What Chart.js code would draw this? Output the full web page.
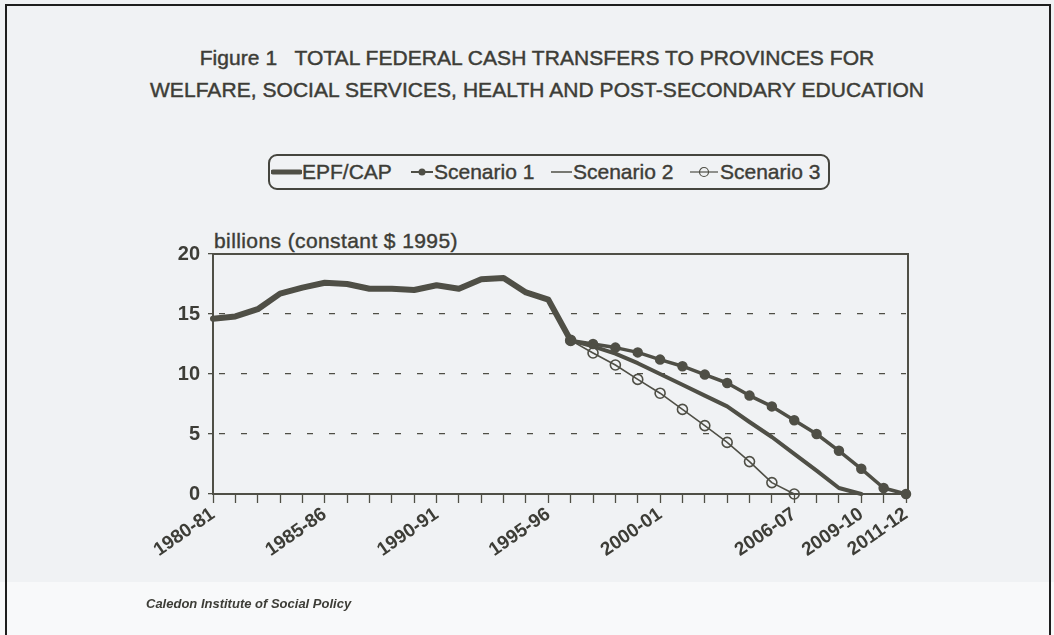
<!DOCTYPE html>
<html>
<head>
<meta charset="utf-8">
<script src="https://cdn.jsdelivr.net/npm/chart.js@4.4.0/dist/chart.umd.min.js"></script>
<style>
html, body { margin: 0; padding: 0; }
body {
  width: 1054px; height: 635px; position: relative; overflow: hidden;
  background: #f0f2f4; font-family: "Liberation Sans", Arial, sans-serif; color: #3d3d37;
}
#lower { position: absolute; left: 0; top: 582px; width: 1054px; height: 60px; background: #f8f9fa; }
#frame { position: absolute; left: 5px; top: 4px; width: 1042px; height: 660px; border: 2px solid #1e1e1e; border-bottom: none; }
#chart { position: absolute; left: 0; top: 0; }
#title { position: absolute; left: 0; width: 1074px; top: 42px; text-align: center; font-size: 21px; line-height: 32px; letter-spacing: 0.05px; -webkit-text-stroke: 0.45px #3d3d37; }
#unit { position: absolute; left: 214px; top: 229px; font-size: 21px; letter-spacing: 0.4px; -webkit-text-stroke: 0.4px #3d3d37; }
#legend { position: absolute; left: 268px; top: 154px; width: 558px; height: 32px; border: 2px solid #45453e; border-radius: 9px; }
.item { position: absolute; top: 0; height: 32px; display: flex; align-items: center; font-size: 21px; white-space: nowrap; -webkit-text-stroke: 0.4px #3d3d37; }
#source { position: absolute; left: 146px; top: 596px; font-size: 13px; font-weight: bold; font-style: italic; }
</style>
</head>
<body>
<div id="lower"></div>
<div id="frame"></div>
<div id="title">Figure 1&nbsp;&nbsp; TOTAL FEDERAL CASH TRANSFERS TO PROVINCES FOR<br>WELFARE, SOCIAL SERVICES, HEALTH AND POST-SECONDARY EDUCATION</div>
<div id="legend">
  <div class="item" style="left:1px"><svg width="31" height="12"><line x1="2" y1="6" x2="29" y2="6" stroke="#4f4f46" stroke-width="5" stroke-linecap="round"/></svg>EPF/CAP</div>
  <div class="item" style="left:140px"><svg width="24" height="12"><line x1="1" y1="6" x2="23" y2="6" stroke="#4f4f46" stroke-width="2"/><circle cx="12" cy="6" r="3.5" fill="#4f4f46"/></svg>Scenario 1</div>
  <div class="item" style="left:280px"><svg width="23" height="12"><line x1="1" y1="6" x2="22" y2="6" stroke="#4f4f46" stroke-width="1.5"/></svg>Scenario 2</div>
  <div class="item" style="left:419px"><svg width="31" height="12"><line x1="1" y1="6" x2="29" y2="6" stroke="#4f4f46" stroke-width="1.2"/><circle cx="15" cy="6" r="4.5" fill="none" stroke="#4f4f46" stroke-width="1.2"/></svg>Scenario 3</div>
</div>
<div id="unit">billions (constant $ 1995)</div>
<canvas id="chart" width="1054" height="635"></canvas>
<div id="source">Caledon Institute of Social Policy</div>
<script>
const years = ['1980-81','1981-82','1982-83','1983-84','1984-85','1985-86','1986-87','1987-88',
  '1988-89','1989-90','1990-91','1991-92','1992-93','1993-94','1994-95','1995-96',
  '1996-97','1997-98','1998-99','1999-00','2000-01','2001-02','2002-03','2003-04',
  '2004-05','2005-06','2006-07','2007-08','2008-09','2009-10','2010-11','2011-12'];
const shownYears = ['1980-81','1985-86','1990-91','1995-96','2000-01','2006-07','2009-10','2011-12'];
const yTicks = [0, 5, 10, 15, 20];

// EPF/CAP from 1980-81 to 1996-97
const epfCap = [14.6, 14.8, 15.4, 16.7, 17.2, 17.6, 17.5, 17.1, 17.1, 17.0, 17.4, 17.1, 17.9, 18.0, 16.8, 16.2, 12.8];
// scenarios start in 1996-97
const scenarioStart = 16;
const scenario1 = [12.8, 12.5, 12.2, 11.8, 11.2, 10.65, 9.95, 9.25, 8.2, 7.3, 6.15, 5.0, 3.6, 2.1, 0.5, 0];
const scenario2 = [12.8, 12.3, 11.7, 10.9, 10.0, 9.1, 8.2, 7.3, 6.0, 4.75, 3.35, 1.95, 0.5, 0];
const scenario3 = [12.8, 11.75, 10.75, 9.55, 8.4, 7.05, 5.7, 4.3, 2.7, 0.95, 0];

const ink = '#4f4f46';

function fromStart(arr) {
  return new Array(scenarioStart).fill(null).concat(arr);
}

const framePlugin = {
  id: 'frame',
  beforeDatasetsDraw(chart) {
    const a = chart.chartArea, ctx = chart.ctx;
    ctx.save();
    ctx.strokeStyle = ink;
    ctx.lineWidth = 2;
    ctx.strokeRect(a.left, a.top, a.right - a.left + 2, a.bottom - a.top);
    ctx.restore();
  }
};

new Chart(document.getElementById('chart'), {
  type: 'line',
  data: {
    labels: years,
    datasets: [
      { label: 'Scenario 3', data: fromStart(scenario3), borderColor: ink, borderWidth: 1.6,
        pointRadius: 5, pointBorderWidth: 1.6, pointBackgroundColor: 'rgba(0,0,0,0)', pointBorderColor: ink },
      { label: 'Scenario 2', data: fromStart(scenario2), borderColor: ink, borderWidth: 4, pointRadius: 0 },
      { label: 'Scenario 1', data: fromStart(scenario1), borderColor: ink, borderWidth: 3.5,
        pointRadius: 3.5, pointBackgroundColor: ink, pointBorderColor: ink },
      { label: 'EPF/CAP', data: epfCap, borderColor: ink, borderWidth: 6, pointRadius: 0 }
    ]
  },
  options: {
    responsive: false,
    animation: false,
    clip: false,
    layout: { padding: { left: 0, top: 254, right: 148, bottom: 41 } },
    elements: { line: { tension: 0, borderJoinStyle: 'round', borderCapStyle: 'round' } },
    plugins: { legend: { display: false }, tooltip: { enabled: false } },
    scales: {
      x: {
        type: 'category',
        offset: false,
        afterFit(s) { s.height = 100; },
        grid: { drawOnChartArea: false, drawTicks: true, tickLength: 9, tickColor: ink, tickWidth: 1.3 },
        border: { display: false },
        ticks: {
          autoSkip: false, maxRotation: 35, minRotation: 35, padding: 0,
          color: '#3d3d37', font: { family: 'Liberation Sans', size: 19, weight: 'bold' },
          callback: (v, i) => shownYears.includes(years[i]) ? years[i] : ''
        }
      },
      y: {
        min: 0, max: 20,
        afterFit(s) { s.width = 213; },
        afterBuildTicks(s) { s.ticks = yTicks.map(v => ({ value: v })); },
        grid: {
          color: c => (c.tick && (c.tick.value === 0 || c.tick.value === 20)) ? 'rgba(0,0,0,0)' : ink,
          lineWidth: 1.3, tickLength: 5, tickColor: ink, tickWidth: 1.3
        },
        border: { display: false, dash: [6, 16], dashOffset: -6 },
        ticks: { padding: 8, color: '#3d3d37', font: { family: 'Liberation Sans', size: 20, weight: 'bold' } }
      }
    }
  },
  plugins: [framePlugin]
});
</script>
</body>
</html>
